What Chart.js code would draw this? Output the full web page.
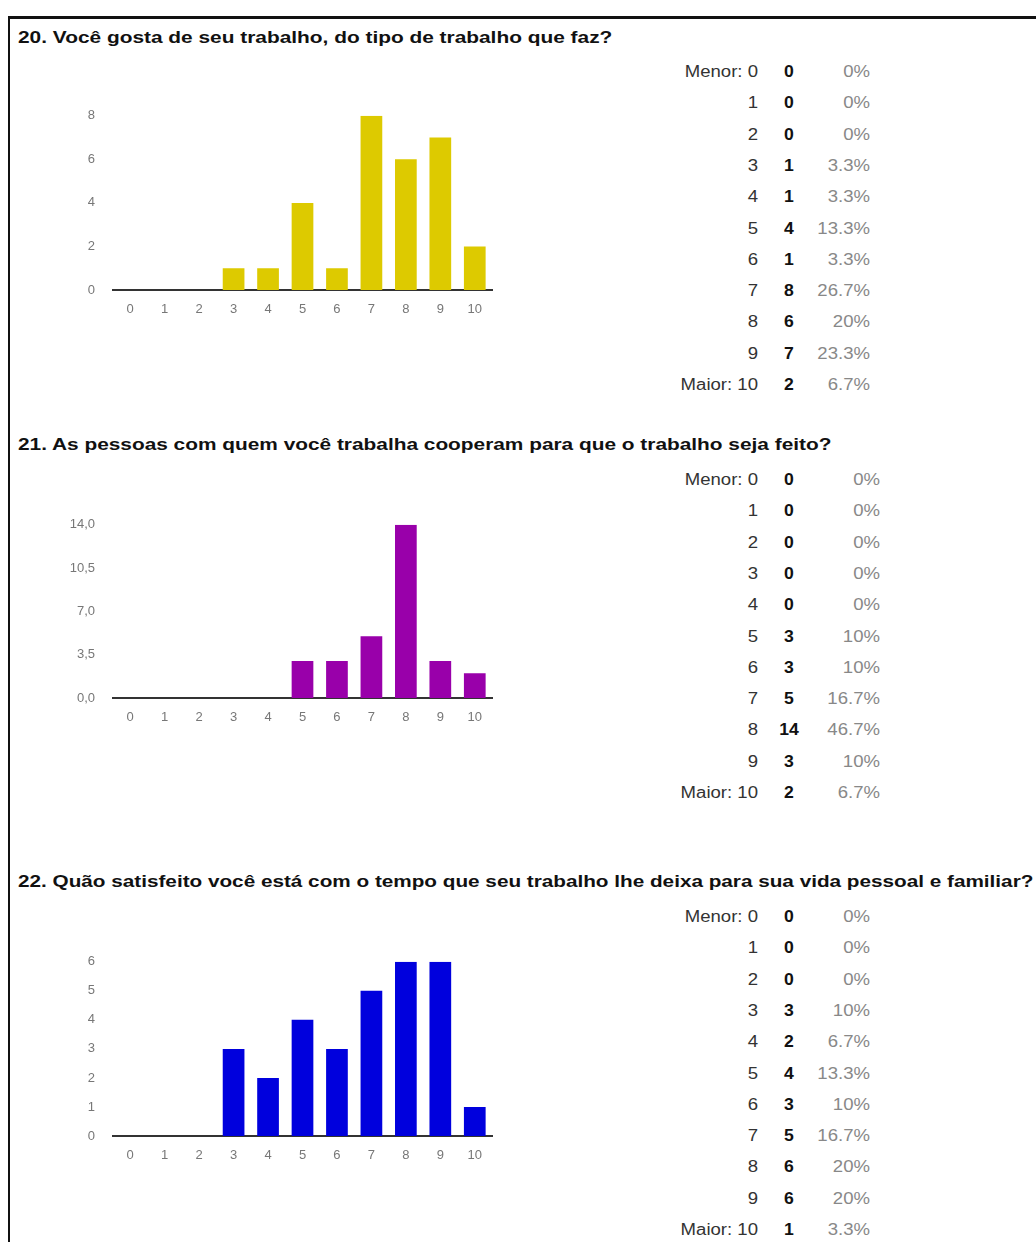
<!DOCTYPE html>
<html>
<head>
<meta charset="utf-8">
<script src="https://cdn.jsdelivr.net/npm/chart.js@4.4.0/dist/chart.umd.min.js"></script>
<style>
body { margin: 0; background: #fff; font-family: Arial, "Liberation Sans", sans-serif; }
#page { position: relative; width: 1036px; height: 1242px; overflow: hidden; }
#frame { position: absolute; left: 8px; top: 16px; width: 1100px; height: 1300px; border-left: 2px solid #111; border-top: 3px solid #111; }
.title { position: absolute; left: 18px; font-weight: bold; font-size: 17px; line-height: 20px; color: #111; white-space: nowrap; transform-origin: left center; }
.chartbox { position: absolute; left: 40px; }
.cell { position: absolute; font-size: 16px; line-height: 20px; white-space: nowrap; }
.lbl { color: #333; text-align: right; transform: scaleX(1.16); transform-origin: right center; }
.cnt { color: #111; font-weight: bold; text-align: center; width: 40px; transform: scaleX(1.1); }
.pct { color: #888; text-align: right; transform: scaleX(1.16); transform-origin: right center; }
</style>
</head>
<body>
<div id="page">
  <div id="frame"></div>
</div>
<script>
// --- DATA ---
const categories = ['0', '1', '2', '3', '4', '5', '6', '7', '8', '9', '10'];
const rowLabels = ['Menor: 0', '1', '2', '3', '4', '5', '6', '7', '8', '9', 'Maior: 10'];

const q20Title = '20. Você gosta de seu trabalho, do tipo de trabalho que faz?';
const q20Counts = [0, 0, 0, 1, 1, 4, 1, 8, 6, 7, 2];
const q20Percents = ['0%', '0%', '0%', '3.3%', '3.3%', '13.3%', '3.3%', '26.7%', '20%', '23.3%', '6.7%'];
const q20Ticks = [0, 2, 4, 6, 8];
const q20TickLabels = ['0', '2', '4', '6', '8'];

const q21Title = '21. As pessoas com quem você trabalha cooperam para que o trabalho seja feito?';
const q21Counts = [0, 0, 0, 0, 0, 3, 3, 5, 14, 3, 2];
const q21Percents = ['0%', '0%', '0%', '0%', '0%', '10%', '10%', '16.7%', '46.7%', '10%', '6.7%'];
const q21Ticks = [0, 3.5, 7, 10.5, 14];
const q21TickLabels = ['0,0', '3,5', '7,0', '10,5', '14,0'];

const q22Title = '22. Quão satisfeito você está com o tempo que seu trabalho lhe deixa para sua vida pessoal e familiar?';
const q22Counts = [0, 0, 0, 3, 2, 4, 3, 5, 6, 6, 1];
const q22Percents = ['0%', '0%', '0%', '10%', '6.7%', '13.3%', '10%', '16.7%', '20%', '20%', '3.3%'];
const q22Ticks = [0, 1, 2, 3, 4, 5, 6];
const q22TickLabels = ['0', '1', '2', '3', '4', '5', '6'];

// --- LAYOUT ---
const sections = [
  { title: q20Title, counts: q20Counts, percents: q20Percents, ticks: q20Ticks, tickLabels: q20TickLabels,
    color: '#DDCA00', titleY: 38, titleW: 594, plotTop: 116, plotBase: 290, rowY: 72, pctRight: 870 },
  { title: q21Title, counts: q21Counts, percents: q21Percents, ticks: q21Ticks, tickLabels: q21TickLabels,
    color: '#9900AA', titleY: 445, titleW: 814, plotTop: 525, plotBase: 698, rowY: 480, pctRight: 880 },
  { title: q22Title, counts: q22Counts, percents: q22Percents, ticks: q22Ticks, tickLabels: q22TickLabels,
    color: '#0000DD', titleY: 882, titleW: 1015, plotTop: 962, plotBase: 1136, rowY: 917, pctRight: 870 }
];
const rowStep = 31.3;
const axisH = 40;
const page = document.getElementById('page');

function addCell(cls, text, x, y, w) {
  const el = document.createElement('div');
  el.className = 'cell ' + cls;
  el.textContent = text;
  el.style.top = (y - 10) + 'px';
  if (cls === 'cnt') el.style.left = (x - 20) + 'px';
  else { el.style.left = (x - w) + 'px'; el.style.width = w + 'px'; }
  page.appendChild(el);
}

function makeChart(s, canvas) {
  return new Chart(canvas.getContext('2d'), {
    type: 'bar',
    data: {
      labels: categories,
      datasets: [{
        data: s.counts,
        backgroundColor: s.color,
        borderWidth: 0,
        barPercentage: 0.63,
        categoryPercentage: 1
      }]
    },
    options: {
      responsive: false,
      animation: false,
      layout: { padding: { top: 0, right: 8, bottom: 0, left: 0 } },
      plugins: { legend: { display: false }, tooltip: { enabled: false } },
      scales: {
        x: {
          grid: { display: false, drawTicks: false },
          border: { display: true, color: '#333', width: 2 },
          ticks: { color: '#777', font: { size: 13, family: 'Arial' }, padding: 12, maxRotation: 0 },
          afterFit: function(sc) { sc.height = axisH; }
        },
        y: {
          min: 0,
          max: s.ticks[s.ticks.length - 1],
          grid: { display: false, drawTicks: false },
          border: { display: false },
          afterBuildTicks: function(sc) { sc.ticks = s.ticks.map(v => ({ value: v })); },
          ticks: {
            color: '#777', font: { size: 13, family: 'Arial' }, padding: 18,
            callback: function(v, i) { return s.tickLabels[i]; }
          },
          afterFit: function(sc) { sc.width = 73; }
        }
      }
    }
  });
}

sections.forEach(function(s) {
  // title, stretched to the width it has in the screenshot
  const t = document.createElement('div');
  t.className = 'title';
  t.textContent = s.title;
  t.style.top = (s.titleY - 10) + 'px';
  page.appendChild(t);
  t.style.transform = 'scaleX(' + (s.titleW / t.scrollWidth) + ')';

  // frequency table
  rowLabels.forEach(function(lbl, i) {
    const y = s.rowY + i * rowStep;
    addCell('lbl', lbl, 758, y, 100);
    addCell('cnt', String(s.counts[i]), 789, y);
    addCell('pct', s.percents[i], s.pctRight, y, 70);
  });

  // chart: build once to learn the top offset of the plot area, then rebuild at final size
  const box = document.createElement('div');
  box.className = 'chartbox';
  page.appendChild(box);
  let canvas = document.createElement('canvas');
  canvas.width = 460;
  canvas.height = 260;
  box.appendChild(canvas);
  let chart = makeChart(s, canvas);
  const offTop = chart.chartArea.top;
  chart.destroy();
  box.removeChild(canvas);

  canvas = document.createElement('canvas');
  canvas.width = 460;
  canvas.height = Math.round(offTop + (s.plotBase - s.plotTop) + axisH);
  box.appendChild(canvas);
  box.style.top = (s.plotTop - offTop) + 'px';
  makeChart(s, canvas);
});
</script>
</body>
</html>
